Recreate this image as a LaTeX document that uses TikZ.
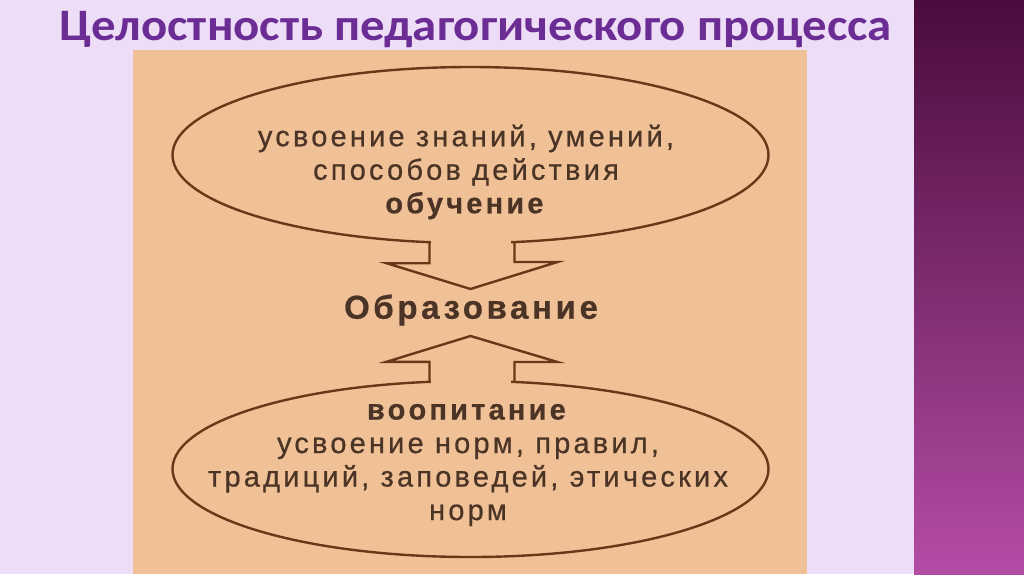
\documentclass[tikz,border=0pt]{standalone}
\usepackage{fontspec}
\setmainfont{Liberation Sans}
\newfontfamily\titlefont{Carlito}
\newfontfamily\labelfont{Liberation Sans}[LetterSpace=11, FakeBold=0.6]
\usetikzlibrary{shapes.geometric, calc}

\definecolor{lavender}{HTML}{EEDDF7}
\definecolor{sheet}{HTML}{F0C196}
\definecolor{ink}{HTML}{6A3719}
\definecolor{textink}{HTML}{4B3426}
\definecolor{titlepurple}{HTML}{6B2D94}
\definecolor{bartop}{HTML}{4A0C3C}
\definecolor{barbottom}{HTML}{B44CA5}

\begin{document}
\begin{tikzpicture} [x=1pt, y=-1pt, align=center,
    heading/.style={text=titlepurple, anchor=base, font=\titlefont\bfseries\fontsize{45}{50}\selectfont},
    oval/.style={ellipse, draw=ink, line width=2.4pt, minimum width=596pt, minimum height=176pt, inner sep=0pt},
    words/.style={text=textink, font=\labelfont\fontsize{29}{33.5}\selectfont},
    bigword/.style={text=textink, font=\labelfont\bfseries\fontsize{33}{38}\selectfont},
    rim/.style={draw=ink, line width=2.4pt, line join=miter}]
\useasboundingbox (0,0) rectangle (1024,574);
\fill[lavender] (0,0) rectangle (1024,574);
\shade[top color=bartop, bottom color=barbottom] (914,0) rectangle (1024,574);
\fill[sheet] (133,50) rectangle (807,574);

\path (476,40) node[heading] (title) {\scalebox{1.085}[1]{Целостность педагогического процесса}}
      (470.5,155) node[oval] (obuch) {}
      (470.5,469) node[oval] (vosp) {}
      (466,172) node[words] (obuchtext) {усвоение знаний, умений,\\способов действия\\\textbf{обучение}}
      (471,310) node[bigword] (obraz) {Образование}
      (468,465) node[words] (vosptext) {\textbf{воопитание}\\усвоение норм, правил,\\традиций, заповедей, этических\\норм};

\coordinate (downtip) at (470.5,289);
\coordinate (uptip) at (470.5,336);

% arrow from obuch down to obraz
\fill[sheet] ($(obuch.south)+(-40,-5)$) rectangle ($(obuch.south)+(40,4)$);
\draw[rim] ($(obuch.south)+(-41,-1)$) -- ++(0,20) -- ++(-43,0) -- (downtip)
           -- ($(downtip)+(87,-27)$) -- ++(-43,0) -- ++(0,-20);
% arrow from vosp up to obraz
\fill[sheet] ($(vosp.north)+(-40,-4)$) rectangle ($(vosp.north)+(40,5)$);
\draw[rim] ($(vosp.north)+(-41,1)$) -- ++(0,-19) -- ++(-43,0) -- (uptip)
           -- ($(uptip)+(87,26)$) -- ++(-43,0) -- ++(0,19);

\end{tikzpicture}
\end{document}
